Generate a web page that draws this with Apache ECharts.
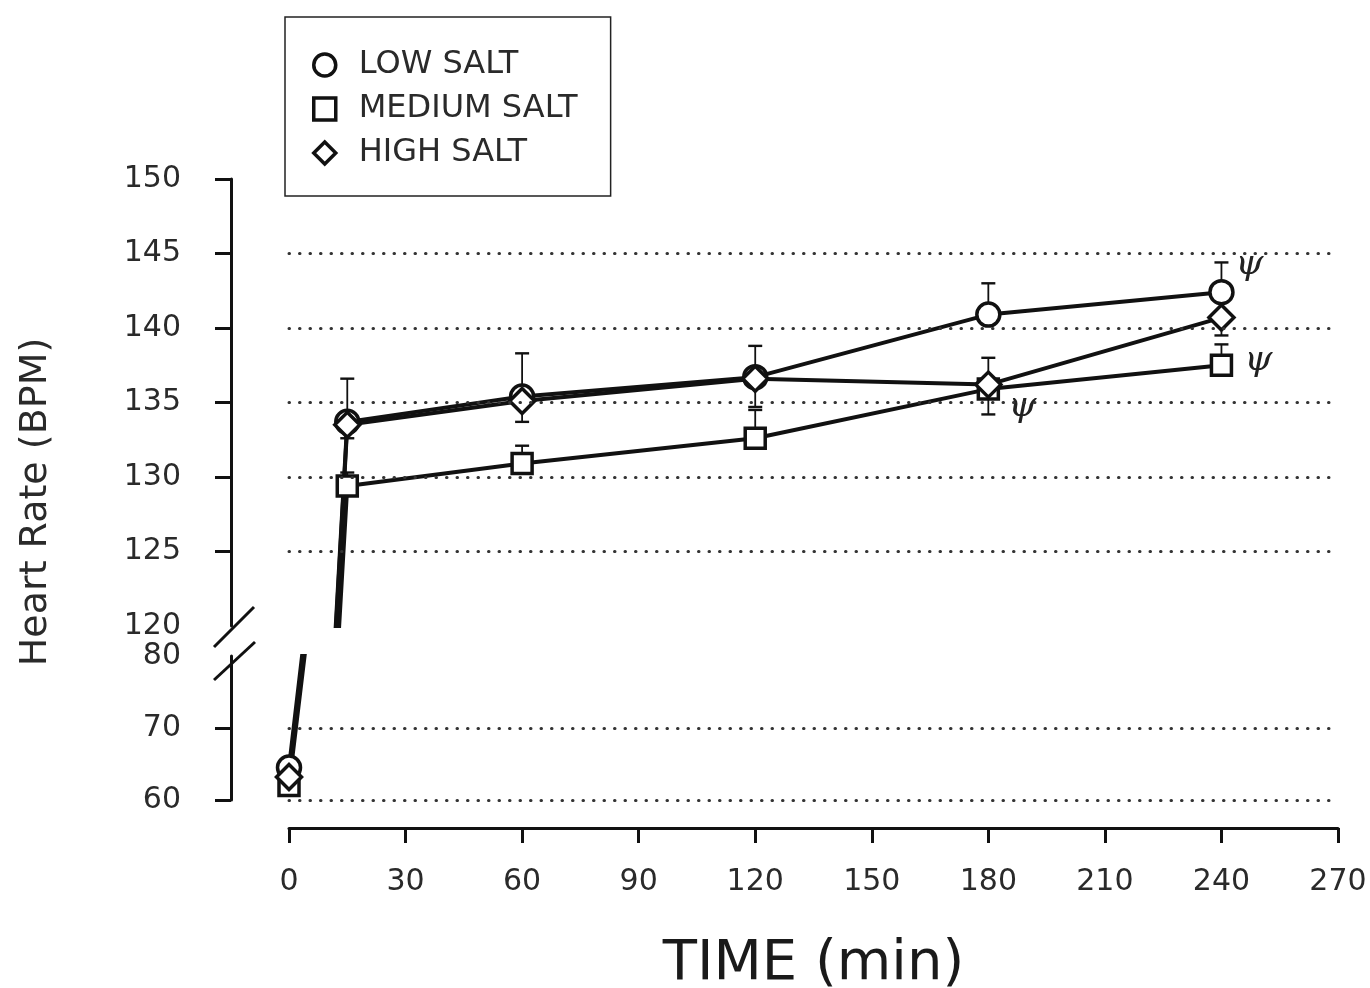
<!DOCTYPE html>
<html>
<head>
<meta charset="utf-8">
<script src="https://cdn.jsdelivr.net/npm/echarts@6/dist/echarts.min.js"></script>
<style>
html,body{margin:0;padding:0;background:#fff;}
#chart{width:1370px;height:988px;}
</style>
</head>
<body>
<div id="chart"></div>
<script>
// ---------- data ----------
const times = [0, 15, 60, 120, 180, 240];
const lowSalt = [64.5, 133.7, 135.4, 136.7, 140.9, 142.4];
const mediumSalt = [62.0, 129.4, 130.9, 132.6, 135.9, 137.5];
const highSalt = [63.2, 133.5, 135.1, 136.6, 136.2, 140.7];
// error bar end values (one-sided bars as drawn)
const lowSaltErrTip = [null, 136.6, 138.3, 138.8, 143.0, 144.4];
const mediumSaltErrTip = [null, 130.3, 132.1, 134.5, 134.2, 138.9];
const highSaltErrTip = [null, 132.6, 133.7, 134.7, 138.0, 139.5];
const seriesNames = ['LOW SALT', 'MEDIUM SALT', 'HIGH SALT'];
const upperGridValues = [125, 130, 135, 140, 145];
const lowerGridValues = [60, 70];
const upperTickValues = [125, 130, 135, 140, 145, 150];
const lowerTickValues = [60, 70];
// significance marks (psi) : [series, time]
const psiMarks = [['LOW SALT', 240], ['MEDIUM SALT', 240], ['MEDIUM SALT', 180]];

// ---------- layout / style ----------
const FONT = 'DejaVu Sans';
const TXT = '#2a2a2a';
const gridLeft = 289, gridWidth = 1049;
const upperTop = 179, upperHeight = 447;
const lowerTop = 656, lowerHeight = 144;
const yAxisOffset = 58;
const symbols = { 'LOW SALT': ['circle', 23], 'MEDIUM SALT': ['rect', 20], 'HIGH SALT': ['diamond', 25] };
const psiOffsets = { 'LOW SALT|240': [28, -28], 'MEDIUM SALT|240': [37, -5], 'MEDIUM SALT|180': [34, 18] };

const groups = [
  { name: seriesNames[0], vals: lowSalt, tips: lowSaltErrTip },
  { name: seriesNames[1], vals: mediumSalt, tips: mediumSaltErrTip },
  { name: seriesNames[2], vals: highSalt, tips: highSaltErrTip }
];

function errRender(params, api) {
  const x = api.value(0), v = api.value(1), tip = api.value(2);
  const p0 = api.coord([x, v]);
  const p1 = api.coord([x, tip]);
  const hw = 7;
  return {
    type: 'group',
    children: [
      { type: 'line', shape: { x1: p0[0], y1: p0[1], x2: p1[0], y2: p1[1] }, style: { stroke: '#111', lineWidth: 1.8 } },
      { type: 'line', shape: { x1: p1[0] - hw, y1: p1[1], x2: p1[0] + hw, y2: p1[1] }, style: { stroke: '#111', lineWidth: 2.4 } }
    ]
  };
}

const dotted = { color: '#333', width: 3, type: [0.5, 10], cap: 'round' };

const series = [];
// dotted reference lines
series.push({
  type: 'line', xAxisIndex: 0, yAxisIndex: 0, data: [], silent: true, z: 0,
  markLine: { silent: true, symbol: 'none', label: { show: false }, lineStyle: dotted,
    data: upperGridValues.map(v => ({ yAxis: v })) }
});
series.push({
  type: 'line', xAxisIndex: 1, yAxisIndex: 1, data: [], silent: true, z: 0,
  markLine: { silent: true, symbol: 'none', label: { show: false }, lineStyle: dotted,
    data: lowerGridValues.map(v => ({ yAxis: v })) }
});

groups.forEach(g => {
  const pts = times.map((t, i) => [t, g.vals[i]]);
  const errData = [];
  times.forEach((t, i) => { if (g.tips[i] != null) errData.push([t, g.vals[i], g.tips[i]]); });
  series.push({
    name: g.name + ' SEM', type: 'custom', xAxisIndex: 0, yAxisIndex: 0, z: 1,
    renderItem: errRender, data: errData, clip: true, silent: true
  });
  [0, 1].forEach(ax => {
    series.push({
      name: g.name, type: 'line', xAxisIndex: ax, yAxisIndex: ax, z: 2,
      data: pts, showSymbol: false, symbol: 'none', clip: true, silent: true,
      lineStyle: { color: '#111', width: 4 }, itemStyle: { color: '#111' }
    });
  });
});

groups.forEach(g => {
  const sym = symbols[g.name];
  [0, 1].forEach(ax => {
    const data = times.map((t, i) => {
      const item = { value: [t, g.vals[i]] };
      const mark = psiMarks.find(m => m[0] === g.name && m[1] === t);
      if (mark && ax === 0) {
        item.label = {
          show: true, formatter: 'ψ', position: 'inside',
          offset: psiOffsets[g.name + '|' + t],
          fontFamily: 'DejaVu Serif', fontStyle: 'italic', fontSize: 36, color: '#222'
        };
      }
      return item;
    });
    series.push({
      name: g.name, type: 'scatter', xAxisIndex: ax, yAxisIndex: ax, z: 3,
      symbol: sym[0], symbolSize: sym[1], clip: true, silent: true,
      itemStyle: { color: '#fff', borderColor: '#111', borderWidth: 3.5, opacity: 1 },
      label: { show: false },
      data: data
    });
  });
});

const axisLineStyle = { color: '#111', width: 3 };

const option = {
  animation: false,
  backgroundColor: '#fff',
  legend: {
    orient: 'vertical', left: 285, top: 17,
    padding: [32, 33, 27, 27],
    borderColor: '#222', borderWidth: 1.5,
    itemGap: 12, itemWidth: 22, itemHeight: 22,
    selectedMode: false,
    textStyle: { fontFamily: FONT, fontSize: 32, color: TXT, lineHeight: 32, padding: [0, 0, 0, 18] },
    data: seriesNames.map(n => ({
      name: n, icon: symbols[n][0],
      itemStyle: { color: '#fff', borderColor: '#111', borderWidth: 3.5 }
    }))
  },
  grid: [
    { left: gridLeft, top: upperTop, width: gridWidth, height: upperHeight, containLabel: false, outerBoundsMode: 'none' },
    { left: gridLeft, top: lowerTop, width: gridWidth, height: lowerHeight, containLabel: false, outerBoundsMode: 'none' }
  ],
  xAxis: [
    { gridIndex: 0, type: 'value', min: 0, max: 270, interval: 30, show: false },
    {
      gridIndex: 1, type: 'value', min: 0, max: 270, interval: 30, offset: 28,
      axisLine: { show: true, onZero: false, lineStyle: axisLineStyle },
      axisTick: { show: true, length: 15, lineStyle: { color: '#111', width: 3 } },
      axisLabel: { fontFamily: FONT, fontSize: 30, color: TXT, margin: 39 },
      splitLine: { show: false },
      name: 'TIME (min)', nameLocation: 'middle', nameGap: 108,
      nameTextStyle: { fontFamily: FONT, fontSize: 56, color: '#1a1a1a' }
    }
  ],
  yAxis: [
    {
      gridIndex: 0, type: 'value', min: 120, max: 150, interval: 5, offset: yAxisOffset,
      axisLine: { show: true, onZero: false, lineStyle: axisLineStyle },
      axisTick: { show: true, length: 16, lineStyle: { color: '#111', width: 3 }, customValues: upperTickValues },
      axisLabel: { fontFamily: FONT, fontSize: 30, color: TXT, margin: 50 },
      splitLine: { show: false }
    },
    {
      gridIndex: 1, type: 'value', min: 60, max: 80, interval: 10, offset: yAxisOffset,
      axisLine: { show: true, onZero: false, lineStyle: axisLineStyle },
      axisTick: { show: true, length: 16, lineStyle: { color: '#111', width: 3 }, customValues: lowerTickValues },
      axisLabel: { fontFamily: FONT, fontSize: 30, color: TXT, margin: 50 },
      splitLine: { show: false }
    }
  ],
  series: series
};

const chart = echarts.init(document.getElementById('chart'), null, { renderer: 'canvas' });
chart.setOption(option);

// axis break marks and rotated y title
const axisX = gridLeft - yAxisOffset;
const yTop = upperTop + upperHeight;   // 120 level
const yBot = lowerTop;                 // 80 level
chart.setOption({
  graphic: [
    { type: 'line', shape: { x1: axisX - 17, y1: yTop + 21, x2: axisX + 23, y2: yTop - 19 }, style: { stroke: '#111', lineWidth: 3 }, z: 51 },
    { type: 'line', shape: { x1: axisX - 17, y1: yBot + 24, x2: axisX + 24, y2: yBot - 14 }, style: { stroke: '#111', lineWidth: 3 }, z: 51 },
    {
      type: 'text', x: 36, y: 502, rotation: Math.PI / 2, z: 51,
      style: { text: 'Heart Rate (BPM)', fontFamily: FONT, fontSize: 38, fill: TXT, align: 'center', verticalAlign: 'middle' }
    }
  ]
});
</script>
</body>
</html>
